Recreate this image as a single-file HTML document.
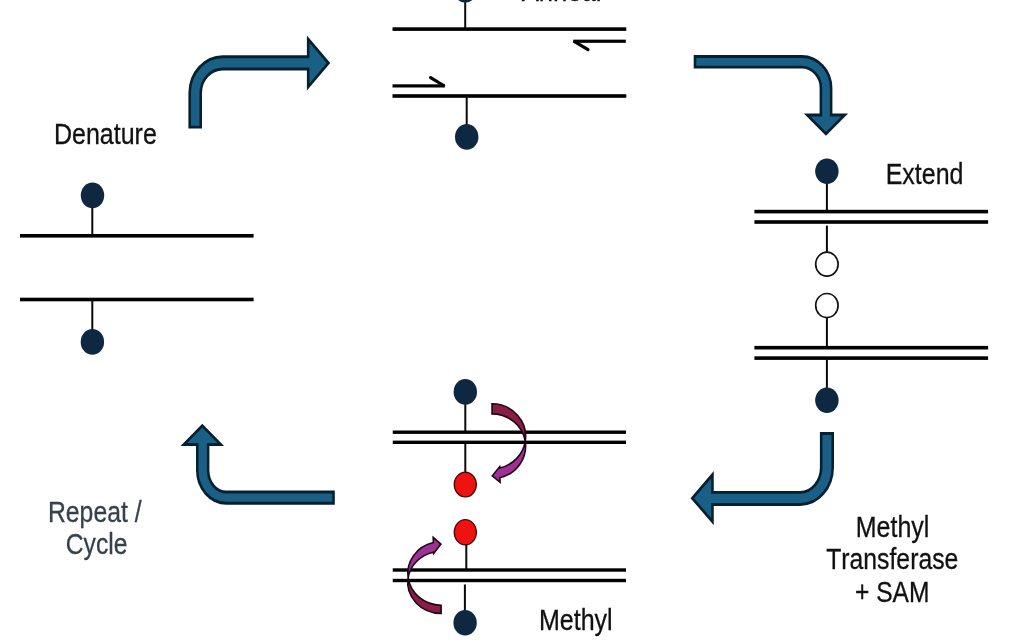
<!DOCTYPE html>
<html lang="en">
<head>
<meta charset="utf-8">
<title>PCR methylation cycle</title>
<style>
html,body{margin:0;padding:0;background:#fff;}
body{width:1029px;height:640px;overflow:hidden;}
svg{display:block;will-change:transform;}
svg text{font-family:"Liberation Sans",Arial,sans-serif;font-kerning:none;}
</style>
</head>
<body>
<svg width="1029" height="640" viewBox="0 0 1029 640">
<rect width="1029" height="640" fill="#ffffff"/>
<text transform="translate(53.92,144.1) scale(0.8539,1)" font-size="29.3" fill="#111" stroke="#111" stroke-width="0.3">Denature</text>
<rect x="91.30" y="205" width="2.0" height="31.00" fill="#0a0a0a"/>
<ellipse cx="92.5" cy="195.4" rx="11.7" ry="12.8" fill="#0e2841"/>
<rect x="20" y="234.00" width="233.60" height="3.6" fill="#000"/>
<rect x="20" y="297.70" width="233.60" height="3.6" fill="#000"/>
<rect x="91.30" y="299" width="2.0" height="33.00" fill="#0a0a0a"/>
<ellipse cx="92.4" cy="341.9" rx="11.7" ry="12.8" fill="#0e2841"/>
<path transform="scale(0.88,1)" d="M215.54,127.15 L215.54,93.00 A37.64,36.25 0 0 1 253.18,56.75 L350.20,56.75 L350.20,39.19 L373.27,63.10 L350.20,87.01 L350.20,69.05 L253.18,69.05 A25.09,23.95 0 0 0 228.10,93.00 L228.10,127.15 Z" fill="#1a5f85" stroke="#07202f" stroke-width="2.9" stroke-linejoin="miter"/>
<text transform="translate(521.76,0.9) scale(0.8741,1)" font-size="29.3" fill="#111" stroke="#111" stroke-width="0.3">Anneal</text>
<rect x="464.20" y="-5" width="2.0" height="34.00" fill="#0a0a0a"/>
<ellipse cx="465.2" cy="-10.1" rx="11.7" ry="12.8" fill="#0e2841"/>
<rect x="392.5" y="27.30" width="233.80" height="3.6" fill="#000"/>
<rect x="573.4" y="39.65" width="52.40" height="3.2" fill="#000"/>
<path d="M574.6,41.6 L588.0,49.6" stroke="#000" stroke-width="3.2" stroke-linecap="round" fill="none"/>
<rect x="392.5" y="84.30" width="52.30" height="3.2" fill="#000"/>
<path d="M443.6,85.5 L430.6,77.6" stroke="#000" stroke-width="3.2" stroke-linecap="round" fill="none"/>
<rect x="392.5" y="94.20" width="233.80" height="3.6" fill="#000"/>
<rect x="465.70" y="96" width="2.0" height="30.00" fill="#0a0a0a"/>
<ellipse cx="466.7" cy="136.9" rx="11.7" ry="12.8" fill="#0e2841"/>
<path transform="scale(0.88,1)" d="M789.75,56.45 L911.02,56.45 A33.44,31.55 0 0 1 944.46,88.00 L944.46,115.05 L959.91,115.05 L938.58,133.87 L917.25,115.05 L932.81,115.05 L932.81,88.00 A21.79,20.85 0 0 0 911.02,67.15 L789.75,67.15 Z" fill="#1a5f85" stroke="#07202f" stroke-width="2.9" stroke-linejoin="miter"/>
<text transform="translate(885.73,184.1) scale(0.8518,1)" font-size="29.3" fill="#111" stroke="#111" stroke-width="0.3">Extend</text>
<rect x="825.90" y="182" width="2.0" height="30.00" fill="#0a0a0a"/>
<ellipse cx="826.9" cy="171.25" rx="11.7" ry="12.8" fill="#0e2841"/>
<rect x="754.4" y="209.80" width="233.70" height="3.6" fill="#000"/>
<rect x="754.4" y="220.20" width="233.70" height="3.6" fill="#000"/>
<rect x="825.90" y="225.6" width="2.0" height="27.40" fill="#0a0a0a"/>
<ellipse cx="826.9" cy="264.2" rx="11.2" ry="12.0" fill="#fff" stroke="#111" stroke-width="1.7"/>
<ellipse cx="826.9" cy="305.5" rx="11.2" ry="12.0" fill="#fff" stroke="#111" stroke-width="1.7"/>
<rect x="825.90" y="317.5" width="2.0" height="30.50" fill="#0a0a0a"/>
<rect x="754.4" y="345.90" width="233.70" height="3.6" fill="#000"/>
<rect x="754.4" y="356.30" width="233.70" height="3.6" fill="#000"/>
<rect x="825.90" y="358" width="2.0" height="32.00" fill="#0a0a0a"/>
<ellipse cx="826.9" cy="400.3" rx="11.7" ry="12.8" fill="#0e2841"/>
<path transform="scale(0.88,1)" d="M946.28,433.45 L946.28,467.20 A36.96,37.25 0 0 1 909.32,504.45 L809.63,504.45 L809.63,521.64 L786.69,498.15 L809.63,474.66 L809.63,492.35 L909.32,492.35 A23.84,25.15 0 0 0 933.15,467.20 L933.15,433.45 Z" fill="#1a5f85" stroke="#07202f" stroke-width="2.9" stroke-linejoin="miter"/>
<text transform="translate(855.72,536.9) scale(0.8535,1)" font-size="29.3" fill="#111" stroke="#111" stroke-width="0.3">Methyl</text>
<text transform="translate(826.23,569.2) scale(0.8453,1)" font-size="29.3" fill="#111" stroke="#111" stroke-width="0.3">Transferase</text>
<text transform="translate(855.02,602.4) scale(0.8395,1)" font-size="29.3" fill="#111" stroke="#111" stroke-width="0.3">+ SAM</text>
<rect x="464.30" y="402" width="2.0" height="30.00" fill="#0a0a0a"/>
<ellipse cx="465.3" cy="391.9" rx="11.7" ry="12.8" fill="#0e2841"/>
<rect x="392.75" y="430.50" width="233.25" height="3.4" fill="#000"/>
<rect x="392.75" y="440.60" width="233.25" height="3.4" fill="#000"/>
<rect x="464.30" y="444" width="2.0" height="30.00" fill="#0a0a0a"/>
<ellipse cx="465.3" cy="484.6" rx="11.0" ry="12.3" fill="#f01212" stroke="#4a0808" stroke-width="1.4"/>
<ellipse cx="465.3" cy="532.25" rx="11.0" ry="12.6" fill="#f01212" stroke="#4a0808" stroke-width="1.4"/>
<rect x="465.30" y="544" width="2.0" height="26.00" fill="#0a0a0a"/>
<rect x="392.75" y="568.30" width="233.25" height="3.4" fill="#000"/>
<rect x="392.75" y="578.80" width="233.25" height="3.4" fill="#000"/>
<rect x="463.90" y="584.5" width="2.0" height="27.50" fill="#0a0a0a"/>
<ellipse cx="465.1" cy="622.7" rx="11.7" ry="12.8" fill="#0e2841"/>
<text transform="translate(538.92,629.8) scale(0.8548,1)" font-size="29.3" fill="#111" stroke="#111" stroke-width="0.3">Methyl</text>
<path d="M492.05,403.80 A33.55,32.55 0 0 1 525.21,441.32 A33.55,32.35 0 0 0 492.05,413.90 Z" fill="#8a1c48" stroke="#1c0612" stroke-width="1.6" stroke-linejoin="miter"/><path d="M525.21,441.32 A33.55,32.55 0 0 1 499.90,468.00 L499.70,466.60 L492.30,475.80 L500.10,482.30 L499.90,477.70 A33.55,32.35 0 0 0 525.21,441.32 Z" fill="#9f3097" stroke="#1c0612" stroke-width="1.6" stroke-linejoin="miter"/>
<g transform="rotate(180 466.65 509.7)"><path d="M492.20,406.00 A33.30,31.00 0 0 1 525.16,441.42 A33.30,31.75 0 0 0 492.20,414.20 Z" fill="#8a1c48" stroke="#1c0612" stroke-width="1.6" stroke-linejoin="miter"/><path d="M525.16,441.42 A33.30,31.00 0 0 1 499.90,467.16 L499.70,465.90 L492.40,475.30 L500.10,482.10 L499.90,476.84 A33.30,31.75 0 0 0 525.16,441.42 Z" fill="#9f3097" stroke="#1c0612" stroke-width="1.6" stroke-linejoin="miter"/></g>
<path transform="scale(0.88,1)" d="M379.00,503.25 L257.39,503.25 A33.21,32.95 0 0 1 224.18,470.30 L224.18,444.45 L208.90,444.45 L229.89,425.65 L250.87,444.45 L236.50,444.45 L236.50,470.30 A20.88,21.75 0 0 0 257.39,492.05 L379.00,492.05 Z" fill="#1a5f85" stroke="#07202f" stroke-width="2.9" stroke-linejoin="miter"/>
<text transform="translate(47.94,521.8) scale(0.8461,1)" font-size="29.3" fill="#36414f" stroke="#36414f" stroke-width="0.3">Repeat /</text>
<text transform="translate(65.71,554.4) scale(0.8430,1)" font-size="29.3" fill="#36414f" stroke="#36414f" stroke-width="0.3">Cycle</text>
</svg>
</body>
</html>
